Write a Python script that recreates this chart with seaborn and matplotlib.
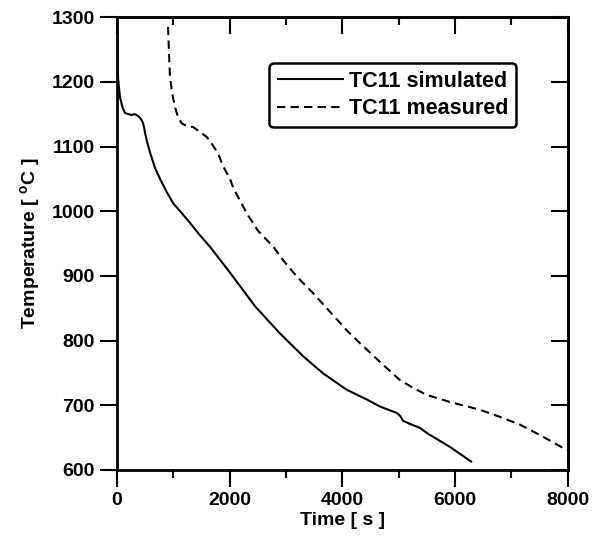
import numpy as np
import pandas as pd
import matplotlib
matplotlib.use("Agg")
import matplotlib.pyplot as plt
import seaborn as sns
from matplotlib.ticker import MultipleLocator, NullFormatter

# curva simulada TC11 (tiempo en s, temperatura en C)
t_sim = [0, 3, 8, 20, 53, 100, 142, 200, 260, 320, 378, 420, 455, 480, 497, 540,
         585, 670, 763, 880, 999, 1150, 1295, 1450, 1650, 2005, 2450, 2892,
         3300, 3660, 4075, 4430, 4666, 4967, 5030, 5074, 5200, 5375, 5517, 5900,
         6300]
T_sim = [1300, 1270, 1235, 1205, 1176, 1160, 1152, 1150, 1149, 1150, 1147,
         1143, 1138, 1130, 1121, 1105, 1091, 1068, 1050, 1030, 1012, 997, 982,
         965, 945, 905, 853, 811, 776, 749, 724, 709, 698, 688, 683, 676, 671,
         665, 656, 636, 612]

# curva medida TC11
t_med = [905, 910, 925, 940, 980, 1029, 1080, 1147, 1230, 1354, 1480, 1591,
         1700, 1800, 1886, 2005, 2064, 2180, 2301, 2500, 2774, 2950, 3200, 3483,
         4075, 4311, 4666, 5020, 5251, 5494, 5907, 6440, 6795, 7150, 7504, 7894,
         8000]
T_med = [1285, 1275, 1240, 1208, 1182, 1161, 1146, 1136, 1132, 1130, 1122,
         1115, 1102, 1088, 1069, 1050, 1036, 1017, 997, 970, 945, 924, 898, 873,
         816, 796, 767, 739, 727, 716, 705, 693, 682, 670, 654, 635, 630]

df = pd.concat([
    pd.DataFrame({"t": t_sim, "T": T_sim, "serie": "TC11 simulated"}),
    pd.DataFrame({"t": t_med, "T": T_med, "serie": "TC11 measured"}),
])

sns.set_style("ticks")
plt.rcParams["font.family"] = ["Liberation Sans", "DejaVu Sans"]
plt.rcParams["font.weight"] = "bold"
plt.rcParams["text.color"] = "black"
plt.rcParams["axes.labelcolor"] = "black"
plt.rcParams["xtick.color"] = "black"
plt.rcParams["ytick.color"] = "black"
plt.rcParams["mathtext.fontset"] = "custom"
plt.rcParams["mathtext.rm"] = "Liberation Sans:bold"
plt.rcParams["mathtext.bf"] = "Liberation Sans:bold"

fig = plt.figure(figsize=(5.97, 5.37), dpi=100)
ax = fig.add_axes([0.196, 0.125, 0.755, 0.843])

sns.lineplot(data=df, x="t", y="T", style="serie", color="black",
             dashes=[(1, 0), (4, 2.5)], linewidth=1.5, sort=False,
             estimator=None, ax=ax)

ax.set_xlim(0, 8000)
ax.set_ylim(600, 1300)
ax.xaxis.set_major_locator(MultipleLocator(2000))
ax.xaxis.set_minor_locator(MultipleLocator(1000))
ax.yaxis.set_major_locator(MultipleLocator(100))

for s in ax.spines.values():
    s.set_linewidth(2)
    s.set_color("black")

ax.tick_params(axis="both", which="major", direction="out", length=12,
               width=1.5, labelsize=14, colors="black", pad=4,
               left=True, bottom=True)
ax.tick_params(axis="x", which="minor", direction="out", length=6, width=1.5,
               bottom=True)

top = ax.secondary_xaxis("top")
top.xaxis.set_major_locator(MultipleLocator(2000))
top.xaxis.set_minor_locator(MultipleLocator(1000))
top.xaxis.set_major_formatter(NullFormatter())
top.tick_params(which="major", direction="in", length=12, width=1.5)
top.tick_params(which="minor", direction="in", length=6, width=1.5)
top.spines["top"].set_linewidth(2)

right = ax.secondary_yaxis("right")
right.yaxis.set_major_locator(MultipleLocator(100))
right.yaxis.set_major_formatter(NullFormatter())
right.tick_params(which="major", direction="in", length=12, width=1.5)
right.spines["right"].set_linewidth(2)

for lab in ax.get_xticklabels() + ax.get_yticklabels():
    lab.set_fontweight("bold")

ax.set_xlabel("Time [ s ]", fontsize=14, fontweight="bold", labelpad=2)
ax.set_ylabel(r"Temperature [ $^{\mathrm{o}}$C ]", fontsize=14,
              fontweight="bold", labelpad=6)

leg = ax.legend(loc="upper right", bbox_to_anchor=(0.885, 0.898),
                frameon=True, fancybox=True, handlelength=3.1,
                handletextpad=0.25, borderpad=0.35, labelspacing=0.3,
                borderaxespad=0, prop={"size": 15.5, "weight": "bold"})
fr = leg.get_frame()
fr.set_edgecolor("black")
fr.set_linewidth(1.8)
fr.set_alpha(1)

fig.savefig("out.png", dpi=100)
